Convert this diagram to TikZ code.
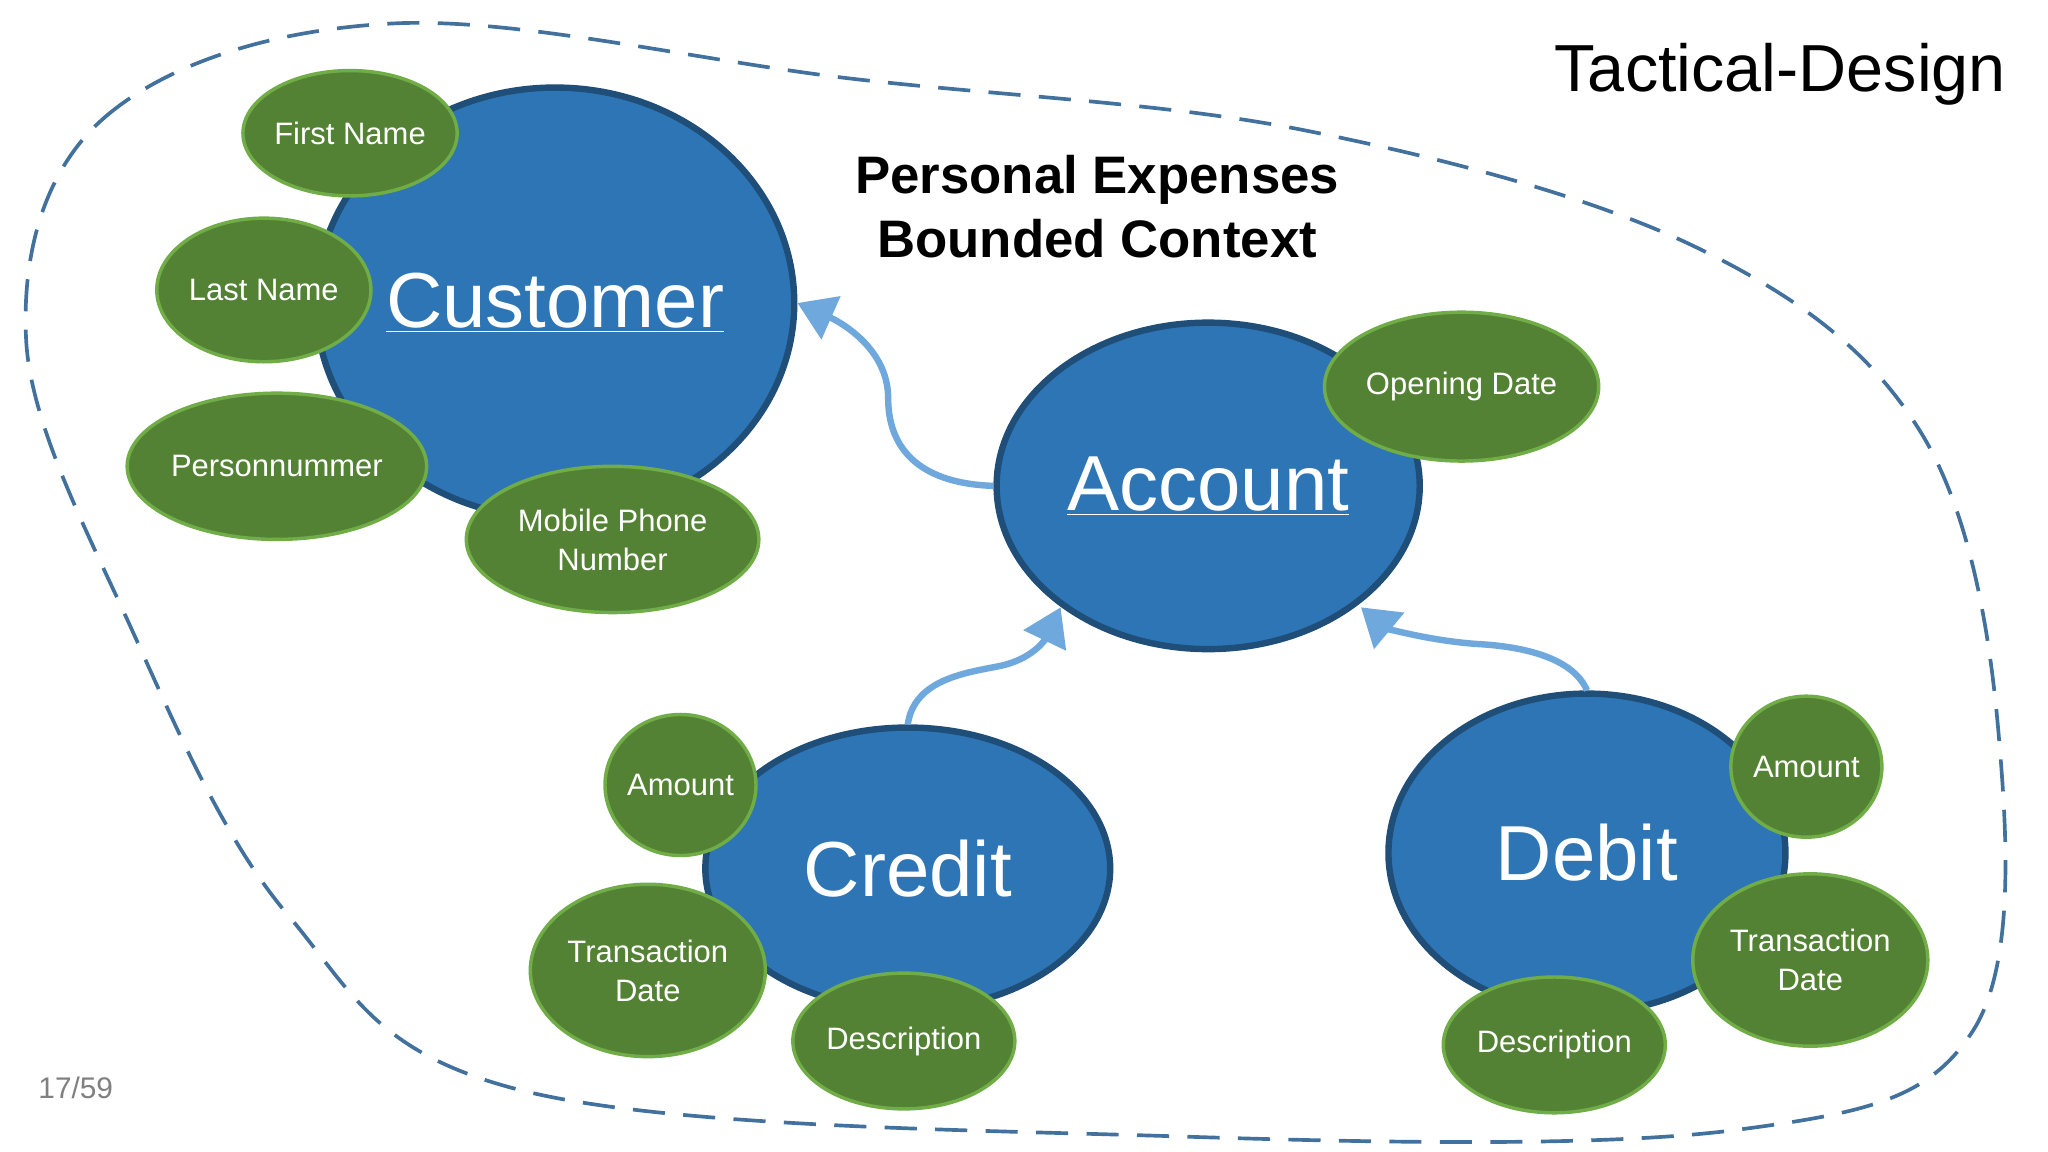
\documentclass[tikz,border=0pt]{standalone}
\usepackage{fontspec}
\setmainfont{Liberation Sans}
\usetikzlibrary{arrows.meta,shapes.geometric}
\definecolor{bfill}{HTML}{2E75B6}
\definecolor{bline}{HTML}{1F4E79}
\definecolor{gfill}{HTML}{548235}
\definecolor{gline}{HTML}{70AD47}
\definecolor{arr}{HTML}{6FA8DC}
\definecolor{dashc}{HTML}{41719C}
\begin{document}
\begin{tikzpicture}[x=0.02cm,y=-0.02cm,
 ent/.style={ellipse,fill=bfill,draw=bline,line width=2.8pt,text=white,font=\fontsize{34}{38}\selectfont,inner sep=0pt},
 att/.style={ellipse,fill=gfill,draw=gline,line width=1.5pt,text=white,font=\fontsize{13.5}{17}\selectfont,align=center,inner sep=0pt},
 rel/.style={arr,line width=2.8pt,-{Triangle[length=16pt,width=20pt]}}]
\useasboundingbox (0,0) rectangle (1568,882);
\fill[white] (0,0) rectangle (1568,882);
% boundary
\draw[dashc,line width=1.6pt,dash pattern=on 14pt off 8pt] plot[smooth cycle,tension=0.6] coordinates{
 (20,260) (80,90) (300,18) (650,60) (1000,100) (1300,190) (1470,330) (1530,560) (1510,790) (1330,865) (900,870) (400,835) (220,700) (100,480)};
\node[font=\fontsize{29}{32}\selectfont] (title) at (1363,57) {Tactical-Design};
\node[font=\bfseries\fontsize{23}{28}\selectfont,align=center] (bc) at (840,158) {Personal Expenses\\ Bounded Context};
\node[text=gray,font=\fontsize{13}{15}\selectfont] (pg) at (58,833) {17/59};
% entities
\node[ent,minimum width=6.8cm,minimum height=6.6cm] (cust) at (425,232) {\underline{Customer}};
\node[ent,minimum width=6.48cm,minimum height=5cm] (acc) at (925,372) {\underline{Account}};
\node[ent,minimum width=6.2cm,minimum height=4.32cm] (cred) at (695,665) {Credit};
\node[ent,minimum width=6.08cm,minimum height=4.88cm] (deb) at (1215,653) {Debit};
% attributes
\node[att,minimum width=3cm,minimum height=1.92cm] (fn) at (268,102) {First Name};
\node[att,minimum width=3.28cm,minimum height=2.2cm] (ln) at (202,222) {Last Name};
\node[att,minimum width=4.48cm,minimum height=2.24cm] (pn) at (212,357) {Personnummer};
\node[att,minimum width=4.48cm,minimum height=2.24cm] (mp) at (469,413) {Mobile Phone\\ Number};
\node[att,minimum width=4.2cm,minimum height=2.28cm] (od) at (1119,296) {Opening Date};
\node[att,minimum width=2.24cm,minimum height=2.16cm] (ca) at (521,601) {Amount};
\node[att,minimum width=3.6cm,minimum height=2.64cm] (ct) at (496,743) {Transaction\\ Date};
\node[att,minimum width=3.4cm,minimum height=2.08cm] (cd) at (692,797) {Description};
\node[att,minimum width=2.24cm,minimum height=2.16cm] (da) at (1383,587) {Amount};
\node[att,minimum width=3.6cm,minimum height=2.64cm] (dt) at (1386,735) {Transaction\\ Date};
\node[att,minimum width=3.4cm,minimum height=2.08cm] (dd) at (1190,800) {Description};
% relations
\draw[rel] (acc.west) .. controls (700,370) and (680,340) .. (680,305) .. controls (680,265) and (640,245) .. (cust.east);
\draw[rel] (cred.north) .. controls (700,520) and (740,515) .. (765,510) .. controls (790,505) and (800,490) .. (812,465);
\draw[rel] (deb.north) .. controls (1205,505) and (1170,495) .. (1130,493) .. controls (1090,490) and (1060,480) .. (1042,465);
\end{tikzpicture}
\end{document}
